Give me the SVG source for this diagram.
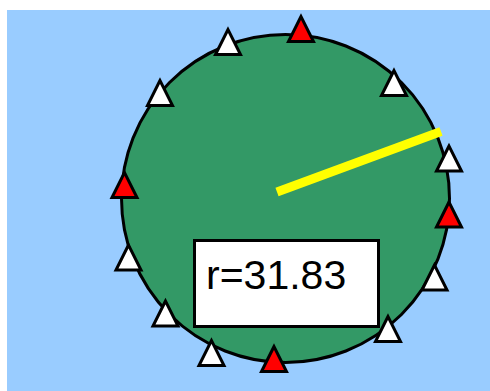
<svg xmlns="http://www.w3.org/2000/svg" xmlns:xlink="http://www.w3.org/1999/xlink" width="490" height="391" viewBox="0 0 490 391">
<style>
.tri{stroke:#000;stroke-width:3;stroke-linejoin:miter}
.w{fill:#fff}
.r{fill:#ff0000}
.lbl{font-family:"Liberation Sans",Arial,sans-serif;font-size:41px;fill:#000}
</style>
<defs>
<polygon id="t" points="0,-25 -12.5,0 12.5,0"/>
</defs>
<rect x="0" y="0" width="490" height="391" fill="#fff"/>
<rect x="7" y="10" width="483" height="381" fill="#99ccff"/>
<g id="disc">
<circle cx="285.5" cy="198.5" r="164" fill="#339966" stroke="#000" stroke-width="3"/>
</g>
<g id="connectors">
<line x1="277" y1="192" x2="441" y2="131.5" stroke="#ffff00" stroke-width="9"/>
</g>
<g id="label">
<rect x="194.5" y="240.5" width="184" height="86" fill="#fff" stroke="#000" stroke-width="3"/>
<text class="lbl" x="206" y="288.5">r=31.83</text>
</g>
<g id="markers">
<use xlink:href="#t" class="tri r" x="301" y="41.5"/>
<use xlink:href="#t" class="tri w" x="228" y="54.5"/>
<use xlink:href="#t" class="tri w" x="160" y="105.5"/>
<use xlink:href="#t" class="tri r" x="124.5" y="197.5"/>
<use xlink:href="#t" class="tri w" x="128.5" y="270"/>
<use xlink:href="#t" class="tri w" x="165.5" y="326"/>
<use xlink:href="#t" class="tri w" x="211.5" y="365.5"/>
<use xlink:href="#t" class="tri r" x="274" y="371.5"/>
<use xlink:href="#t" class="tri w" x="388" y="341.5"/>
<use xlink:href="#t" class="tri w" x="434.5" y="290"/>
<use xlink:href="#t" class="tri r" x="449" y="227"/>
<use xlink:href="#t" class="tri w" x="449" y="171"/>
<use xlink:href="#t" class="tri w" x="394" y="95.5"/>
</g>
</svg>
